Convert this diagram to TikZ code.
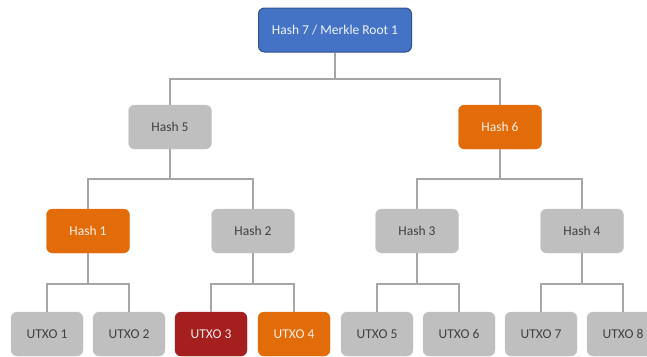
\documentclass[tikz,border=0pt]{standalone}
\usepackage{fontspec}
\setmainfont{Carlito}
\definecolor{gbox}{HTML}{BFBFBF}
\definecolor{gtext}{HTML}{404040}
\definecolor{obox}{HTML}{E36C0A}
\definecolor{rbox}{HTML}{A51F1F}
\definecolor{bbox}{HTML}{4472C4}
\definecolor{bline}{HTML}{2F528F}
\definecolor{conn}{HTML}{A6A6A6}
\begin{document}
\begin{tikzpicture}[x=1pt,y=-1pt,
  box/.style={rounded corners=6pt, minimum height=44pt, inner sep=0pt, font=\fontsize{13.5}{16}\selectfont},
  hbox/.style={box, minimum width=83pt},
  ubox/.style={box, minimum width=72pt},
  grey/.style={fill=gbox, draw=gbox!85!white, text=gtext},
  orange/.style={fill=obox, draw=obox, text=white!90!obox},
  red/.style={fill=rbox, draw=rbox, text=white!90!rbox},
  blue/.style={fill=bbox, draw=bline, line width=1pt, text=white!92!bbox},
  link/.style={draw=conn, line width=2pt}]
\useasboundingbox (0,0) rectangle (647,356);
\clip (0,0) rectangle (647,356);
% root
\node[box, blue, minimum width=153pt] (root) at (335,30) {Hash 7 / Merkle Root 1};
% level 2
\node[hbox, grey] (h5) at (170,127) {Hash 5};
\node[hbox, orange] (h6) at (500,127) {Hash 6};
% level 3
\node[hbox, orange] (h1) at (88,231) {Hash 1};
\node[hbox, grey] (h2) at (253,231) {Hash 2};
\node[hbox, grey] (h3) at (417,231) {Hash 3};
\node[hbox, grey] (h4) at (582,231) {Hash 4};
% leaves
\node[ubox, grey] (u1) at (47,334) {UTXO 1};
\node[ubox, grey] (u2) at (129,334) {UTXO 2};
\node[ubox, red] (u3) at (211,334) {UTXO 3};
\node[ubox, orange] (u4) at (294,334) {UTXO 4};
\node[ubox, grey] (u5) at (377,334) {UTXO 5};
\node[ubox, grey] (u6) at (459,334) {UTXO 6};
\node[ubox, grey] (u7) at (541,334) {UTXO 7};
\node[ubox, grey] (u8) at (623,334) {UTXO 8};
% connectors
\draw[link] (root.south) |- (170,79) -| (h5.north);
\draw[link] (root.south) |- (500,79) -| (h6.north);
\draw[link] (h5.south) |- (88,179) -| (h1.north);
\draw[link] (h5.south) |- (253,179) -| (h2.north);
\draw[link] (h6.south) |- (417,179) -| (h3.north);
\draw[link] (h6.south) |- (582,179) -| (h4.north);
\draw[link] (h1.south) |- (47,284) -| (u1.north);
\draw[link] (h1.south) |- (129,284) -| (u2.north);
\draw[link] (h2.south) |- (211,284) -| (u3.north);
\draw[link] (h2.south) |- (294,284) -| (u4.north);
\draw[link] (h3.south) |- (377,284) -| (u5.north);
\draw[link] (h3.south) |- (459,284) -| (u6.north);
\draw[link] (h4.south) |- (541,284) -| (u7.north);
\draw[link] (h4.south) |- (623,284) -| (u8.north);
\end{tikzpicture}
\end{document}
